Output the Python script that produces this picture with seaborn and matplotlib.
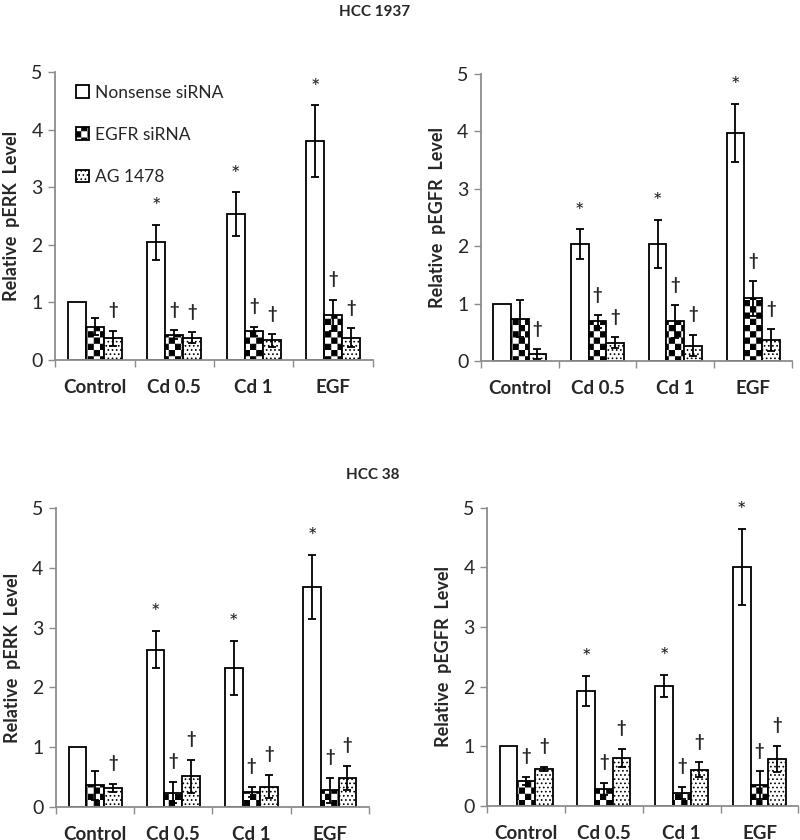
"""
Relative pERK / pEGFR levels in HCC 1937 and HCC 38 cells, with nonsense
siRNA, EGFR siRNA and AG 1478 treatment (mean +/- SE).
"""
import warnings
import numpy as np
import pandas as pd
import matplotlib
matplotlib.use("Agg")
import matplotlib.pyplot as plt
import matplotlib.hatch as mhatch
from matplotlib.path import Path
import seaborn as sns

warnings.filterwarnings("ignore")

groups = ["Control", "Cd 0.5", "Cd 1", "EGF"]
treatments = ["Nonsense siRNA", "EGFR siRNA", "AG 1478"]

# rows: Nonsense siRNA, EGFR siRNA, AG 1478 ; columns: groups
perk_1937_mean = [[1.00, 2.04, 2.53, 3.80],
                  [0.58, 0.44, 0.50, 0.78],
                  [0.38, 0.39, 0.34, 0.39]]
perk_1937_err = [[0.00, 0.31, 0.38, 0.62],
                 [0.15, 0.08, 0.08, 0.27],
                 [0.13, 0.09, 0.11, 0.16]]
perk_1937_sig = [["", "*", "*", "*"],
                 ["", "†", "†", "†"],
                 ["†", "†", "†", "†"]]

pegfr_1937_mean = [[1.00, 2.04, 2.04, 3.97],
                   [0.74, 0.69, 0.69, 1.09],
                   [0.12, 0.32, 0.27, 0.37]]
pegfr_1937_err = [[0.00, 0.26, 0.42, 0.51],
                  [0.32, 0.11, 0.29, 0.30],
                  [0.09, 0.10, 0.19, 0.19]]
pegfr_1937_sig = [["", "*", "*", "*"],
                  ["", "†", "†", "†"],
                  ["†", "†", "†", "†"]]

perk_38_mean = [[1.00, 2.63, 2.32, 3.68],
                [0.36, 0.24, 0.25, 0.28],
                [0.32, 0.51, 0.34, 0.49]]
perk_38_err = [[0.00, 0.31, 0.45, 0.54],
               [0.25, 0.18, 0.09, 0.21],
               [0.07, 0.28, 0.19, 0.20]]
perk_38_sig = [["", "*", "*", "*"],
               ["", "†", "†", "†"],
               ["†", "†", "†", "†"]]

pegfr_38_mean = [[1.00, 1.93, 2.01, 4.01],
                 [0.42, 0.29, 0.22, 0.35],
                 [0.62, 0.80, 0.61, 0.79]]
pegfr_38_err = [[0.00, 0.25, 0.18, 0.64],
                [0.07, 0.10, 0.10, 0.23],
                [0.04, 0.15, 0.12, 0.22]]
pegfr_38_sig = [["", "*", "*", "*"],
                ["†", "†", "†", "†"],
                ["†", "†", "†", "†"]]

panels = [
    ("Relative  pERK  Level", perk_1937_mean, perk_1937_err, perk_1937_sig),
    ("Relative  pEGFR  Level", pegfr_1937_mean, pegfr_1937_err, pegfr_1937_sig),
    ("Relative  pERK  Level", perk_38_mean, perk_38_err, perk_38_sig),
    ("Relative  pEGFR  Level", pegfr_38_mean, pegfr_38_err, pegfr_38_sig),
]
# axes rectangles [left, bottom, width, height] in figure fraction
positions = [
    [0.069, 0.5714, 0.397, 0.343],
    [0.601, 0.5702, 0.389, 0.342],
    [0.070, 0.0393, 0.391, 0.356],
    [0.609, 0.0405, 0.389, 0.355],
]


class CheckerHatch(mhatch.HatchPatternBase):
    """Filled checkerboard, switched on by 'c' in the hatch string."""

    def __init__(self, hatch, density):
        self.n = 16 * hatch.count('c')
        self.num_vertices = (self.n * self.n // 2) * 5

    def set_vertices_and_codes(self, vertices, codes):
        step = 1.0 / self.n
        inset = plt.rcParams['hatch.linewidth'] / 144.0
        sq = np.array([[inset, inset], [step - inset, inset],
                       [step - inset, step - inset], [inset, step - inset],
                       [inset, inset]])
        k = 0
        for i in range(self.n):
            for j in range(self.n):
                if (i + j) % 2:
                    continue
                vertices[k:k + 5] = sq + [i * step, j * step]
                codes[k:k + 5] = [Path.MOVETO, Path.LINETO, Path.LINETO,
                                  Path.LINETO, Path.CLOSEPOLY]
                k += 5


mhatch._hatch_types.append(CheckerHatch)

sns.set_style("white")
plt.rcParams['font.family'] = ['Lato', 'DejaVu Sans']
plt.rcParams['hatch.linewidth'] = 0.7

hatches = ["", "c", "...."]
AXCOL = "#8c8c8c"

fig = plt.figure(figsize=(8, 8.4), dpi=100)

for (ylabel, mean, err, sig), pos in zip(panels, positions):
    ax = fig.add_axes(pos)
    df = pd.DataFrame({
        "group": np.tile(groups, len(treatments)),
        "treatment": np.repeat(treatments, len(groups)),
        "value": np.ravel(mean),
        "err": np.ravel(err),
        "sig": np.ravel(sig),
    })
    sns.barplot(data=df, x="group", y="value", hue="treatment",
                order=groups, hue_order=treatments,
                palette=["white"] * 3, edgecolor="black", linewidth=1.3,
                width=0.68, gap=0, errorbar=None, legend=False,
                saturation=1, ax=ax)

    for cont, h, t in zip(ax.containers, hatches, treatments):
        sub = df[df.treatment == t].set_index("group").loc[groups]
        xs = []
        for bar in cont:
            bar.set_hatch(h)
            xs.append(bar.get_x() + bar.get_width() / 2)
        xs = np.array(xs)
        e = sub["err"].values
        v = sub["value"].values
        m = e > 0
        ax.errorbar(xs[m], v[m], yerr=e[m], fmt="none", ecolor="black",
                    elinewidth=1.3, capsize=3.2, capthick=1.3, zorder=5)
        for x, val, er, s in zip(xs, v, e, sub["sig"].values):
            if s == "*":
                ax.text(x, val + er + 0.30, s, ha="center", va="center",
                        fontsize=16, color="#222222")
            elif s:
                ax.text(x, val + er + 0.35, s, ha="center", va="center",
                        fontsize=12, fontweight="bold")

    ax.set_ylim(0, 5)
    ax.set_xlim(-0.5, 3.5)
    ax.set_yticks(range(6))
    ax.tick_params(axis="y", labelsize=14, length=5, width=1, color=AXCOL,
                   left=True, pad=4)
    ax.set_xticks([-0.5, 0.5, 1.5, 2.5, 3.5])
    ax.set_xticklabels([])
    ax.set_xticks(range(4), minor=True)
    ax.set_xticklabels(groups, minor=True, fontsize=13.5, fontweight="bold")
    ax.tick_params(axis="x", which="major", length=5, width=1, color=AXCOL,
                   bottom=True)
    ax.tick_params(axis="x", which="minor", length=0, pad=14)
    ax.set_xlabel("")
    ax.set_ylabel(ylabel, fontsize=13, fontweight="bold", labelpad=8)
    sns.despine(ax=ax)
    for sp in ("left", "bottom"):
        ax.spines[sp].set_color(AXCOL)
        ax.spines[sp].set_linewidth(1.3)

    if pos is positions[0]:
        handles = [c[0] for c in ax.containers]
        ax.legend(handles, treatments, loc="upper left",
                  bbox_to_anchor=(0.065, 0.955), frameon=False, fontsize=12.5,
                  handlelength=0.75, handleheight=0.75, handletextpad=0.35,
                  labelspacing=1.5, borderpad=0, borderaxespad=0)

fig.text(0.468, 0.986, "HCC 1937", ha="center", va="center",
         fontsize=11, fontweight="bold")
fig.text(0.466, 0.435, "HCC 38", ha="center", va="center",
         fontsize=11, fontweight="bold")

fig.savefig("out.png", dpi=100)
